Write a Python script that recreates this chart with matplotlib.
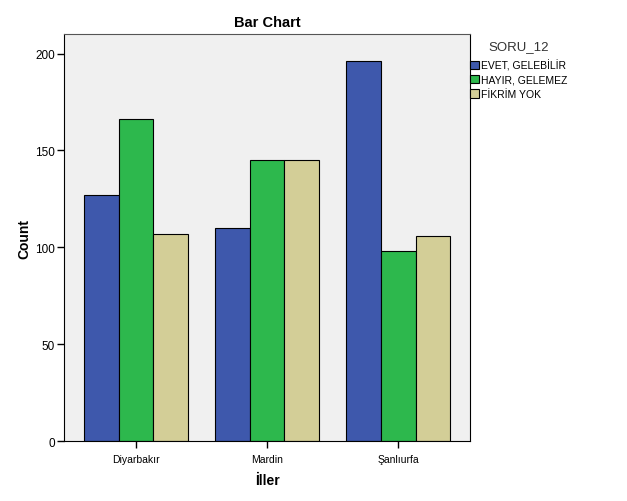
import numpy as np
import matplotlib
matplotlib.use("Agg")
import matplotlib.pyplot as plt

plt.rcParams["font.family"] = ["Liberation Sans", "DejaVu Sans"]

cities = ["Diyarbakır", "Mardin", "Şanlıurfa"]
series_names = ["EVET, GELEBİLİR", "HAYIR, GELEMEZ", "FİKRİM YOK"]
evet = [127, 110, 196]
hayir = [166, 145, 98]
fikrim_yok = [107, 145, 106]
colors = ["#3e58ac", "#2db84d", "#d3ce97"]

fig = plt.figure(figsize=(6.27, 5.02), dpi=100)
ax = fig.add_axes([0.102, 0.1195, 0.648, 0.8105])
ax.set_facecolor("#f0f0f0")

x = np.arange(len(cities))
width = 0.265
for i, (vals, name) in enumerate(zip([evet, hayir, fikrim_yok], series_names)):
    ax.bar(x + (i - 1) * width, vals, width, color=colors[i], edgecolor="black",
           linewidth=0.8, label=name, zorder=2)

ax.set_xlim(-0.55, 2.55)
ax.set_ylim(0, 210)
ax.set_yticks([0, 50, 100, 150, 200])
ax.set_xticks(x)
ax.set_xticklabels(cities, fontsize=7.5)
ax.tick_params(axis="y", labelsize=8.5, length=5, width=1, pad=1.5)
ax.tick_params(axis="x", length=5, width=1, pad=4)
for s in ["left", "bottom", "right"]:
    ax.spines[s].set_color("black")
ax.spines["top"].set_color("#555555")

ax.set_title("Bar Chart", fontsize=10.5, fontweight="bold", pad=6)
ax.set_ylabel("Count", fontsize=10, fontweight="bold", labelpad=3)
ax.set_xlabel("İller", fontsize=10, fontweight="bold", labelpad=7)

leg = fig.legend(loc="upper left", bbox_to_anchor=(0.749, 0.918), title="SORU_12",
                 fontsize=7.5, title_fontsize=9.5, frameon=False, handlelength=0.9,
                 handleheight=0.9, handletextpad=0.15, labelspacing=0.4,
                 borderaxespad=0, borderpad=0)
leg._legend_box.align = "center"
leg._legend_box.sep = 5
leg.get_title().set_color("#333333")
for h in leg.legend_handles:
    h.set_edgecolor("black")

fig.savefig("out.png", dpi=100)
